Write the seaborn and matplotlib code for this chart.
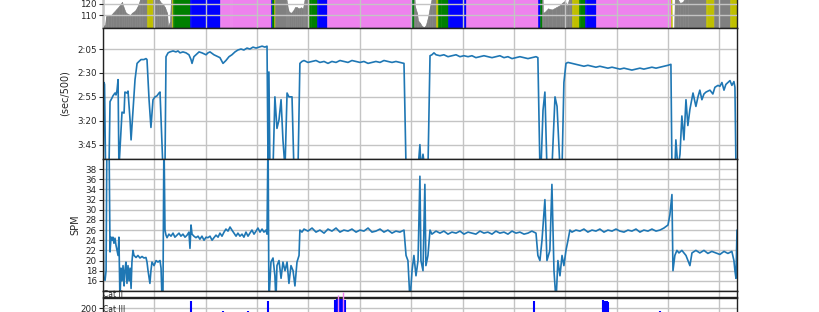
import numpy as np
import pandas as pd
import matplotlib
matplotlib.use("Agg")
import matplotlib.pyplot as plt
import seaborn as sns
from matplotlib.ticker import FuncFormatter, MultipleLocator

sns.set_style("ticks")
plt.rcParams['font.family'] = ['DejaVu Sans']

# ---------------- data ----------------
hr_time = [0, 12, 18, 29, 47, 58, 76, 93, 111, 123, 134, 146, 158, 169, 187, 199, 210, 216, 228, 257,
           263, 286, 292, 315, 327, 339, 350, 362, 374, 380, 391, 397, 403, 409, 415, 508, 514, 683,
           689, 742, 748, 753, 981, 987, 999, 1004, 1069, 1075, 1080, 1086, 1098, 1110, 1121, 1133,
           1145, 1156, 1168, 1174, 1180, 1197, 1203, 1215, 1250, 1256, 1308, 1314, 1799, 1805, 1810,
           1816, 1822, 1834, 1840, 1851, 1863, 1875, 1886, 1898, 1910, 1921, 1945, 1956, 1974, 2015,
           2021, 2120, 2126, 2534, 2540, 2552, 2564, 2570, 2581, 2599, 2622, 2646, 2669, 2681, 2698,
           2710, 2721, 2727, 2739, 2745, 2780, 2786, 2815, 2821, 2879, 2885, 3317, 3323, 3335, 3340,
           3358, 3370, 3387, 3399, 3416, 3522, 3527, 3562, 3568, 3662, 3668, 3703]
hr_bpm = [100, 101, 109, 110, 110, 112, 115, 118, 122, 116, 112, 111, 110, 112, 114, 117, 121, 124, 127, 128,
          135, 135, 128, 126, 124, 121, 120, 117, 112, 100, 104, 125, 128, 135, 145, 145, 155, 155,
          165, 165, 158, 165, 165, 145, 145, 127, 127, 121, 116, 113, 112, 114, 117, 117,
          116, 117, 116, 121, 127, 128, 135, 145, 145, 155, 155, 165, 165, 145, 145,
          135, 118, 112, 105, 103, 100, 99, 101, 108, 118, 126, 128, 135, 145, 145,
          155, 155, 165, 165, 155, 145, 145, 112, 113, 116, 115, 117, 119, 121, 123,
          118, 124, 127, 128, 135, 135, 145, 145, 155, 155, 165, 165, 95, 95, 127,
          124, 121, 122, 126, 128, 128, 135, 135, 128, 128, 135, 135]
zone_edges = [130, 140, 150, 160, 170]
zone_colors = ['gray', 'y', 'g', 'b', 'violet', 'r']

pace_time = [0, 6, 9, 15, 35, 41, 53, 58, 70, 76, 82, 88, 93, 105, 111, 123, 128, 140, 146, 158, 164,
             175, 187, 199, 210, 222, 239, 251, 257, 269, 280, 292, 304, 315, 327, 333, 339, 350, 362,
             368, 380, 391, 409, 426, 438, 450, 467, 485, 502, 514, 520, 531, 543, 561, 578, 602, 613,
             625, 648, 660, 683, 701, 718, 736, 753, 771, 788, 806, 823, 841, 858, 876, 894, 911, 929,
             946, 958, 964, 969, 975, 993, 1004, 1016, 1028, 1040, 1051, 1063, 1075, 1086, 1104, 1115,
             1139, 1150, 1162, 1174, 1197, 1221, 1244, 1267, 1291, 1314, 1337, 1361, 1384, 1407, 1431,
             1454, 1478, 1501, 1524, 1548, 1571, 1594, 1618, 1641, 1664, 1688, 1711, 1734, 1758, 1770,
             1781, 1805, 1840, 1851, 1857, 1869, 1880, 1898, 1910, 1921, 1933, 1945, 1968, 1991, 2015,
             2038, 2062, 2085, 2108, 2132, 2155, 2178, 2202, 2225, 2248, 2272, 2295, 2318, 2342, 2365,
             2389, 2412, 2435, 2459, 2482, 2505, 2529, 2540, 2552, 2558, 2570, 2581, 2593, 2610, 2622,
             2640, 2652, 2669, 2681, 2692, 2704, 2716, 2739, 2762, 2786, 2809, 2832, 2856, 2879, 2902,
             2926, 2949, 2973, 2996, 3019, 3043, 3066, 3089, 3113, 3136, 3159, 3183, 3206, 3230, 3253,
             3276, 3300, 3317, 3323, 3340, 3346, 3358, 3370, 3381, 3393, 3405, 3416, 3428, 3446, 3463,
             3475, 3486, 3498, 3510, 3522, 3545, 3562, 3574, 3592, 3603, 3615, 3627, 3638, 3650, 3662,
             3673, 3685, 3691, 3697, 3703]
pace_sec = [250, 160, 162, 250, 250, 180, 176, 174, 171, 173, 168, 157, 250, 212, 191, 192, 170, 171, 169, 199, 220,
            189, 157, 140, 138, 136, 136, 135, 136, 178, 207, 178, 175, 174, 171, 170, 199, 250, 250,
            133, 129, 128, 127, 128, 127, 129, 128, 129, 131, 136, 140, 133, 131, 128, 129, 131, 129,
            128, 131, 132, 134, 140, 137, 133, 131, 128, 126, 125, 126, 124, 125, 123, 124, 123, 122,
            123, 122, 250, 149, 250, 250, 175, 208, 199, 178, 220, 250, 171, 175, 175, 250,
            250, 140, 138, 137, 139, 138, 137, 139, 138, 140, 138, 139, 137, 138, 139,
            137, 138, 139, 138, 140, 139, 138, 139, 137, 138, 139, 138, 139, 140, 250,
            250, 250, 250, 225, 250, 235, 250, 250, 132, 131, 129, 131, 132, 131, 133,
            132, 131, 133, 132, 133, 132, 134, 133, 132, 133, 134, 133, 132, 134, 133,
            135, 134, 133, 134, 135, 134, 133, 134, 250, 250, 189, 170, 250, 250, 250,
            175, 185, 250, 250, 160, 140, 139, 140, 141, 142, 143, 142, 143, 144, 143,
            144, 145, 144, 145, 146, 145, 146, 147, 146, 145, 146, 145, 144, 145, 144,
            143, 142, 141, 250, 250, 220, 250, 235, 195, 220, 178, 205, 188, 171, 185,
            175, 168, 178, 172, 170, 168, 172, 165, 163, 164, 160, 168, 162, 160, 158,
            163, 159, 165, 250, 250]

spm_time = [0, 4, 12, 18, 23, 35, 41, 47, 53, 58, 64, 70, 76, 82, 88, 93, 99, 105, 111, 117, 123, 128,
            134, 140, 146, 152, 158, 164, 169, 175, 181, 193, 204, 216, 228, 239, 251, 257, 263, 274,
            280, 286, 298, 310, 321, 333, 339, 345, 350, 356, 362, 368, 374, 385, 397, 409, 420, 432,
            444, 455, 467, 479, 491, 502, 508, 514, 520, 531, 543, 555, 566, 578, 590, 602, 613, 625,
            637, 648, 660, 672, 683, 695, 707, 718, 730, 742, 753, 765, 777, 788, 800, 812, 823, 835,
            847, 858, 870, 882, 894, 905, 917, 929, 940, 952, 958, 964, 969, 981, 993, 1004, 1010,
            1016, 1028, 1040, 1051, 1063, 1075, 1086, 1098, 1110, 1121, 1133, 1145, 1150, 1162, 1174,
            1197, 1221, 1244, 1267, 1291, 1314, 1337, 1361, 1384, 1407, 1431, 1454, 1478, 1501, 1524,
            1548, 1571, 1594, 1618, 1641, 1664, 1688, 1711, 1734, 1758, 1770, 1781, 1793, 1805, 1816,
            1828, 1840, 1851, 1857, 1869, 1880, 1886, 1898, 1910, 1921, 1945, 1968, 1991, 2015, 2038,
            2062, 2085, 2108, 2132, 2155, 2178, 2202, 2225, 2248, 2272, 2295, 2318, 2342, 2365, 2389,
            2412, 2435, 2459, 2482, 2505, 2529, 2540, 2552, 2564, 2581, 2593, 2610, 2622, 2634, 2646,
            2657, 2669, 2681, 2692, 2704, 2716, 2727, 2739, 2762, 2786, 2809, 2832, 2856, 2879, 2902,
            2926, 2949, 2973, 2996, 3019, 3043, 3066, 3089, 3113, 3136, 3159, 3183, 3206, 3230, 3253,
            3276, 3300, 3311, 3323, 3329, 3340, 3352, 3364, 3381, 3405, 3428, 3440, 3463, 3486, 3510,
            3533, 3556, 3580, 3603, 3627, 3650, 3673, 3685, 3691, 3697, 3703]
spm_val = [29, 16.7, 16.1, 18, 45, 45, 21.7, 24.6, 24, 24.6, 23.4, 24.4, 23, 22, 21, 24.6, 12, 18.5, 16, 19, 15, 18,
           19.7, 15.5, 19, 16, 18.5, 14.5, 19.7, 22, 21, 20.6, 21, 20.5, 20.8, 20.5, 20.6, 19.7, 18, 15.5,
           18, 19.7, 19, 20, 19.7, 20, 18.5, 12, 12, 45, 26, 25, 24.5, 25.2, 24.8, 25.4, 24.6, 25,
           25.4, 24.8, 25.2, 24.6, 25, 25.6, 22.4, 27, 25.2, 24.8, 24.5, 24.8, 24.2, 24.8, 24, 24.6, 24.5, 24.8,
           24, 24.5, 25, 24.6, 25.4, 24.8, 25.6, 26.2, 25.8, 26.6, 26, 25.4, 24.8, 25.4, 24.8, 25.2, 24.6, 25.6,
           24.8, 25.4, 26, 25.2, 25.8, 26.4, 25.6, 26.2, 25.6, 26, 25.2, 45, 12, 19.7, 20.5, 17, 12,
           19, 20, 16.5, 19.7, 18, 19.7, 15.5, 19, 18, 15, 19.7, 21, 26, 25.6, 26.2,
           25.8, 26.4, 25.6, 26, 25.4, 26.2, 25.8, 26.4, 25.6, 26, 25.8, 26.2, 25.6, 26, 25.8,
           26.4, 25.6, 25.8, 26.2, 25.6, 26, 25.4, 25.8, 25.6, 26, 21, 20, 12, 18, 21,
           17, 20, 36.6, 20, 18, 35, 19, 21, 26, 25.2, 25.8, 25.4, 25.8, 25.2, 25.6,
           25.4, 25.8, 25.2, 25.6, 25.4, 25.2, 25.8, 25.4, 25.6, 25.2, 25.8, 25.4, 25.6, 25.2, 25.8,
           25.4, 25.6, 25.2, 25.4, 25.8, 25.4, 21, 20, 24, 32, 20, 22, 35, 18, 12,
           20, 17, 21, 19, 22, 24, 26, 25.6, 26, 25.8, 26.2, 25.6, 26, 25.8, 26.2,
           25.6, 26, 25.8, 26.2, 25.8, 25.6, 26, 25.8, 26.2, 25.6, 26, 25.8, 26.2, 25.8, 26,
           26.4, 27, 29, 33, 18, 21, 22, 21.5, 22, 21, 19, 21.5, 22, 21.5, 22,
           21.4, 21.8, 21.5, 21.2, 21.8, 21.4, 21.8, 20, 18, 16.5, 26]

cat3_time = [514, 701, 847, 964, 1355, 1367, 1378, 1390, 1402, 1413, 2482, 2517, 2920, 2932, 2943, 2949, 3253, 3305]
cat3_val = [270, 175, 170, 270, 285, 295, 290, 295, 288, 280, 165, 270, 280, 270, 275, 265, 170, 165]
cat2_time = [1372, 1402]
cat2_val = [330, 360]

pace_ticks = [125, 150, 175, 200, 225]
spm_ticks = list(range(16, 40, 2))
hr_ticks = [110, 120]
cat3_ticks = [200]

# ---------------- layout ----------------
FW, FH = 819, 312
fig = plt.figure(figsize=(FW / 100, FH / 100), dpi=100)
L, W = 103 / FW, 634 / FW


def pos(top, bot):
    return [L, 1 - bot / FH, W, (bot - top) / FH]


ax_hr = fig.add_axes(pos(-72, 28))
ax_pace = fig.add_axes(pos(28, 159))
ax_spm = fig.add_axes(pos(159, 291))
ax_c2 = fig.add_axes(pos(291, 297))
ax_c3 = fig.add_axes(pos(298, 328))
axes = [ax_hr, ax_pace, ax_spm, ax_c2, ax_c3]

line_c = '#1f77b4'
grid_c = '#c4c4c4'

# HR filled by zone
t = np.array(hr_time, float)
h = np.array(hr_bpm, float)
for i in range(len(t) - 1):
    mid = 0.5 * (h[i] + h[i + 1])
    z = int(np.searchsorted(zone_edges, mid, side='right'))
    ax_hr.fill_between(t[i:i + 2], h[i:i + 2], 0, facecolor=zone_colors[z],
                       edgecolor=zone_colors[z], linewidth=0.4)
ax_hr.set_ylim(98.2, 189)
ax_hr.set_yticks(hr_ticks)
ax_hr.set_axisbelow(False)

# pace
pace_df = pd.DataFrame({'time': pace_time, 'pace': pace_sec})
sns.lineplot(data=pace_df, x='time', y='pace', ax=ax_pace, color=line_c, linewidth=1.2,
             estimator=None, sort=False)
ax_pace.set_ylim(240, 103)
ax_pace.set_yticks(pace_ticks)
ax_pace.yaxis.set_major_formatter(FuncFormatter(lambda v, p: f"{int(v) // 60}:{int(v) % 60:02d}"))
ax_pace.set_ylabel('(sec/500)', fontsize=7)
ax_pace.yaxis.set_label_coords(-0.052, 0.5)

# spm
spm_df = pd.DataFrame({'time': spm_time, 'spm': spm_val})
sns.lineplot(data=spm_df, x='time', y='spm', ax=ax_spm, color=line_c, linewidth=1.2,
             estimator=None, sort=False)
ax_spm.set_ylim(14, 40)
ax_spm.set_yticks(spm_ticks)
ax_spm.set_ylabel('SPM', fontsize=7)
ax_spm.yaxis.set_label_coords(-0.036, 0.5)

# categories
ax_c3.vlines(cat3_time, 0, cat3_val, color='b', linewidth=1.5)
ax_c3.vlines(cat2_time, 150, cat2_val, color='violet', linewidth=1.0, clip_on=False, zorder=5)
ax_c3.set_ylim(0, 300)
ax_c3.set_yticks(cat3_ticks)
ax_c2.set_ylim(0, 1)
ax_c2.set_yticks([])
ax_c2.text(0.0, 0.45, 'Cat II', transform=ax_c2.transAxes, ha='left', va='center', fontsize=5.5)
ax_c3.text(0.0, 0.63, 'Cat III', transform=ax_c3.transAxes, ha='left', va='center', fontsize=5.5)

for ax in axes:
    ax.set_xlim(0, 3703)
    ax.xaxis.set_major_locator(MultipleLocator(300))
    ax.tick_params(axis='x', labelbottom=False, length=0)
    ax.tick_params(axis='y', labelsize=6.3, length=3, width=0.8, pad=1.5)
    ax.grid(True, color=grid_c, linewidth=1.0)
    ax.set_xlabel('')
    if ax is not ax_pace and ax is not ax_spm:
        ax.set_ylabel('')
    for s in ax.spines.values():
        s.set_color('#222222')
        s.set_linewidth(1.0)

fig.savefig('out.png', dpi=100)
